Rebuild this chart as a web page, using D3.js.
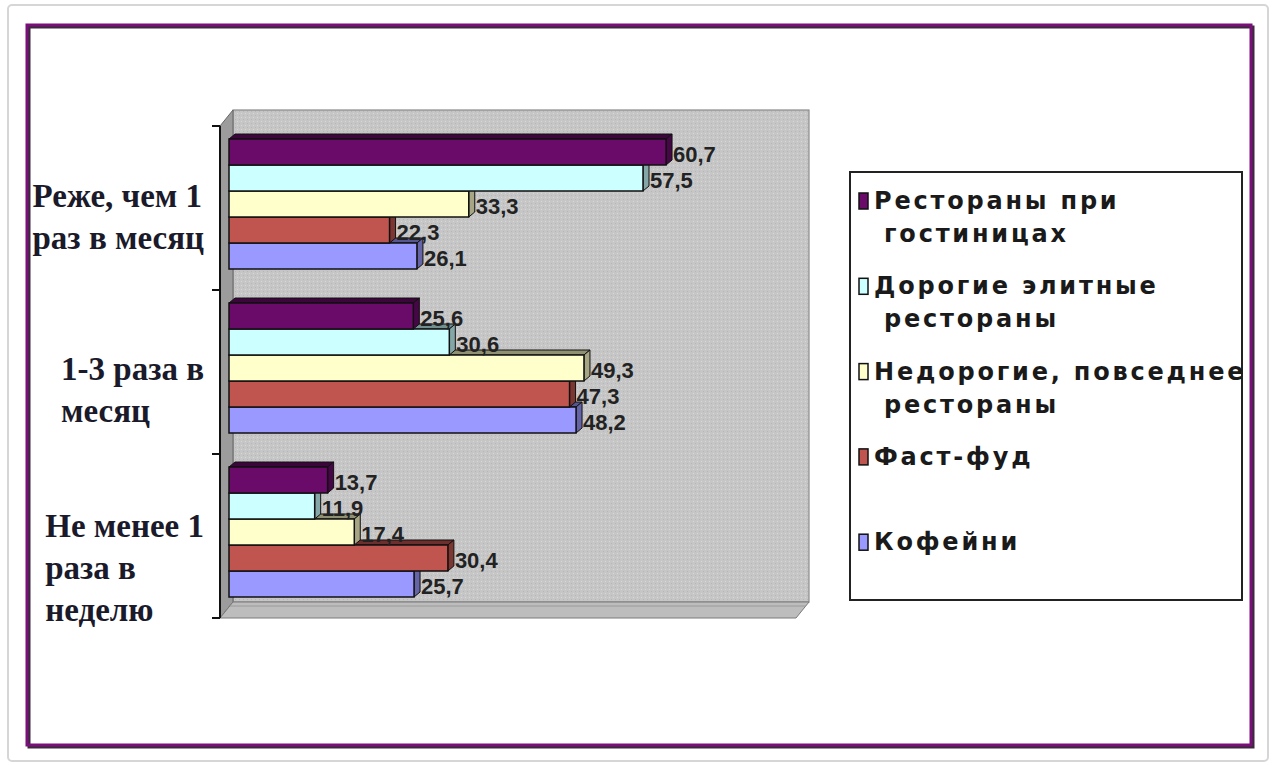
<!DOCTYPE html>
<html><head><meta charset="utf-8">
<script src="https://cdn.jsdelivr.net/npm/d3@7"></script>
<style>html,body{margin:0;padding:0;background:#fff;}svg{display:block;}</style>
</head><body>
<svg id="chart" width="1275" height="765"></svg>
<script>
// ---- data ----
const categories = ["Реже, чем 1 раз в месяц", "1-3 раза в месяц", "Не менее 1 раза в неделю"];
const categoryLines = [["Реже, чем 1", "раз в месяц"], ["1-3 раза в", "месяц"], ["Не менее 1", "раза в", "неделю"]];
const seriesNames = ["Рестораны при гостиницах", "Дорогие элитные рестораны", "Недорогие, повседнее рестораны", "Фаст-фуд", "Кофейни"];
const legendLines = [["Рестораны при", "гостиницах"], ["Дорогие элитные", "рестораны"], ["Недорогие, повседнее", "рестораны"], ["Фаст-фуд"], ["Кофейни"]];
const hotelValues  = [60.7, 25.6, 13.7];
const eliteValues  = [57.5, 30.6, 11.9];
const cheapValues  = [33.3, 49.3, 17.4];
const fastValues   = [22.3, 47.3, 30.4];
const coffeeValues = [26.1, 48.2, 25.7];
const seriesValues = [hotelValues, eliteValues, cheapValues, fastValues, coffeeValues];
const seriesColors = ["#6a0b6a", "#ccffff", "#ffffcc", "#c0544f", "#9999ff"];
const xDomain = [0, 80];

// ---- layout ----
const svg = d3.select("#chart");
const front = {x0: 220, y0: 126, y1: 618};
const wallD = {dx: 13, dy: -16};
const barShift = {dx: 9, dy: -4};
const depth = {dx: 6, dy: -5};

const x = d3.scaleLinear().domain(xDomain).range([front.x0, 796]);
const y = d3.scaleBand().domain(categories).range([front.y0, front.y1]);
const ySub = d3.scaleBand().domain(seriesNames).range([17, y.bandwidth() - 17]);

// frames
svg.append("rect").attr("x", 8).attr("y", 5).attr("width", 1260).attr("height", 756)
  .attr("rx", 4).attr("fill", "#fff").attr("stroke", "#d6d6d6").attr("stroke-width", 2);
svg.append("rect").attr("x", 29).attr("y", 27).attr("width", 1224).attr("height", 720)
  .attr("fill", "none").attr("stroke", "#3a2a3a").attr("stroke-width", 3);
svg.append("rect").attr("x", 27).attr("y", 25).attr("width", 1224).attr("height", 720)
  .attr("fill", "none").attr("stroke", "#7a0f7a").attr("stroke-width", 3);

// wall pattern
const defs = svg.append("defs");
const pat = defs.append("pattern").attr("id", "dots").attr("width", 4).attr("height", 4)
  .attr("patternUnits", "userSpaceOnUse");
pat.append("rect").attr("width", 4).attr("height", 4).attr("fill", "#c6c6c6");
pat.append("rect").attr("x", 1).attr("y", 1).attr("width", 1).attr("height", 1).attr("fill", "#d8d8d8");
pat.append("rect").attr("x", 3).attr("y", 3).attr("width", 1).attr("height", 1).attr("fill", "#b6b6b6");

const xL = x(xDomain[0]), xR = x(xDomain[1]);
// back wall
svg.append("rect").attr("x", xL + wallD.dx).attr("y", front.y0 + wallD.dy)
  .attr("width", xR - xL).attr("height", front.y1 - front.y0)
  .attr("fill", "url(#dots)").attr("stroke", "#8a8a8a").attr("stroke-width", 1.2);
// side wall
svg.append("polygon").attr("points", [
  [xL, front.y0], [xL + wallD.dx, front.y0 + wallD.dy], [xL + wallD.dx, front.y1 + wallD.dy], [xL, front.y1]
].map(p => p.join(",")).join(" ")).attr("fill", "#9c9c9c").attr("stroke", "#666").attr("stroke-width", 1);
// floor
svg.append("polygon").attr("points", [
  [xL, front.y1], [xL + wallD.dx, front.y1 + wallD.dy], [xR + wallD.dx, front.y1 + wallD.dy], [xR, front.y1]
].map(p => p.join(",")).join(" ")).attr("fill", "#bdbdbd").attr("stroke", "#7a7a7a").attr("stroke-width", 1);
svg.append("line").attr("x1", xL + wallD.dx - 3).attr("x2", xR + wallD.dx - 3)
  .attr("y1", front.y1 + wallD.dy + 4).attr("y2", front.y1 + wallD.dy + 4)
  .attr("stroke", "#9a9a9a").attr("stroke-width", 1);

// axis
const ticks = categories.map(c => y(c)).concat([front.y1]);
svg.append("line").attr("x1", xL).attr("x2", xL).attr("y1", front.y0).attr("y2", front.y1)
  .attr("stroke", "#111").attr("stroke-width", 2);
svg.selectAll(".tick").data(ticks).join("line")
  .attr("x1", xL - 8).attr("x2", xL).attr("y1", d => d).attr("y2", d => d)
  .attr("stroke", "#111").attr("stroke-width", 2);

// bars (draw lower series first so upper bars occlude top faces)
const bars = [];
categories.forEach((c, ci) => {
  seriesNames.forEach((s, si) => bars.push({c, ci, s, si, v: seriesValues[si][ci]}));
});
const order = bars.slice().sort((a, b) => (a.ci - b.ci) || (b.si - a.si));
const g = svg.append("g");
order.forEach(d => {
  const x0 = x(0) + barShift.dx, x1 = x(d.v) + barShift.dx;
  const y0 = y(d.c) + ySub(d.s) + barShift.dy, h = ySub.bandwidth();
  const col = d3.color(seriesColors[d.si]);
  const bg = g.append("g");
  bg.append("polygon").attr("points", [
    [x0, y0], [x0 + depth.dx, y0 + depth.dy], [x1 + depth.dx, y0 + depth.dy], [x1, y0]
  ].map(p => p.join(",")).join(" ")).attr("fill", col.darker(1.6)).attr("stroke", "#111").attr("stroke-width", 1);
  bg.append("polygon").attr("points", [
    [x1, y0], [x1 + depth.dx, y0 + depth.dy], [x1 + depth.dx, y0 + h + depth.dy], [x1, y0 + h]
  ].map(p => p.join(",")).join(" ")).attr("fill", col.darker(1.2)).attr("stroke", "#111").attr("stroke-width", 1);
  bg.append("rect").attr("x", x0).attr("y", y0).attr("width", x1 - x0).attr("height", h)
    .attr("fill", col).attr("stroke", "#111").attr("stroke-width", 1.5);
});
// value labels
svg.selectAll(".val").data(bars).join("text")
  .attr("x", d => x(d.v) + barShift.dx + depth.dx + 1)
  .attr("y", d => y(d.c) + ySub(d.s) + barShift.dy + ySub.bandwidth() / 2 + 10)
  .attr("font-family", "'Liberation Sans Narrow', 'Liberation Sans', sans-serif")
  .attr("font-weight", "bold").attr("font-size", 22).attr("fill", "#222")
  .text(d => d.v.toFixed(1).replace(".", ","));

// category labels: lines left-aligned, block right-aligned at 204
const catBaseline = [207, 380, 537];
categories.forEach((c, ci) => {
  const lines = categoryLines[ci];
  const t = svg.append("g");
  const texts = t.selectAll("text").data(lines).join("text")
    .attr("font-family", "'Liberation Serif', 'Times New Roman', serif")
    .attr("font-weight", "bold").attr("font-size", 33).attr("fill", "#1a1a2a")
    .attr("y", (d, i) => catBaseline[ci] + i * 42)
    .text(d => d);
  let maxW = 0;
  texts.each(function () { maxW = Math.max(maxW, this.getComputedTextLength()); });
  texts.attr("x", 204 - maxW);
});

// legend
svg.append("rect").attr("x", 850).attr("y", 172).attr("width", 392).attr("height", 428)
  .attr("fill", "#fff").attr("stroke", "#222").attr("stroke-width", 2);
const leg = svg.append("g");
seriesNames.forEach((s, si) => {
  const by = 209 + si * 85.3;
  leg.append("rect").attr("x", 859).attr("y", by - 16).attr("width", 9).attr("height", 16)
    .attr("fill", seriesColors[si]).attr("stroke", "#111").attr("stroke-width", 1.5);
  legendLines[si].forEach((ln, li) => {
    leg.append("text").attr("x", li === 0 ? 874 : 884).attr("y", by + li * 33)
      .attr("font-family", "'DejaVu Sans', sans-serif").attr("font-weight", "bold")
      .attr("font-size", 24).attr("letter-spacing", 2.8).attr("fill", "#1a1a1a").text(ln);
  });
});
</script>
</body></html>
